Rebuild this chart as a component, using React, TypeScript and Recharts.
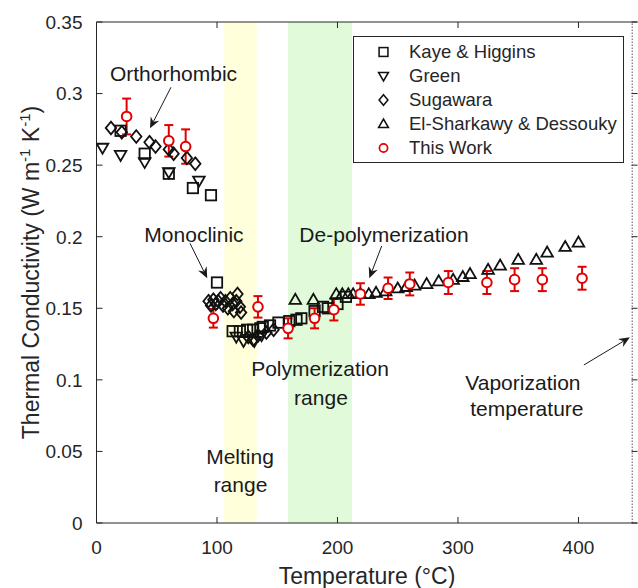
import React from 'react';
import {
  ScatterChart,
  Scatter,
  XAxis,
  YAxis,
  ReferenceArea,
  ReferenceLine,
  ReferenceDot,
  ErrorBar,
  Legend,
} from 'recharts';

const FONT = '"Liberation Sans", Arial, Helvetica, sans-serif';
const INK = '#262626';
const BLACK = '#111111';
const RED = '#E00000';

// Axis ticks
const xTicks = [0, 100, 200, 300, 400];
const yTicks = [0, 0.05, 0.1, 0.15, 0.2, 0.25, 0.3, 0.35];

// Phase-change temperatures (°C)
const meltingRange = [106, 133];
const polymerizationRange = [159, 212];
const vaporizationTemp = 444.6;

// [temperature °C, thermal conductivity W/(m K)]
const kayeHiggins = [
  [20, 0.274], [40, 0.258], [60, 0.244], [80, 0.234], [95, 0.229], [100, 0.168],
  [113, 0.134], [119, 0.134], [125, 0.135], [130, 0.135], [136, 0.136], [138, 0.137],
  [144, 0.138], [151, 0.14], [160, 0.141], [166, 0.142], [170, 0.143], [181, 0.148],
  [188, 0.151], [192, 0.15], [200, 0.153], [207, 0.158],
];

const green = [
  [5, 0.262], [20, 0.257], [40, 0.252], [60, 0.245], [85, 0.239],
  [116, 0.13], [122, 0.127], [131, 0.127], [137, 0.131],
];

const sugawara = [
  [12, 0.276], [21, 0.273], [33, 0.27], [44, 0.266], [49, 0.263], [60, 0.261],
  [64, 0.258], [75, 0.255], [82, 0.251],
  [93, 0.155], [95, 0.152], [97, 0.156], [99, 0.153], [101, 0.155], [103, 0.157],
  [105, 0.152], [107, 0.155], [109, 0.15], [111, 0.157], [113, 0.153], [114, 0.148],
  [116, 0.155], [117, 0.16], [119, 0.151], [120, 0.147],
  [126, 0.13], [130, 0.128], [134, 0.131], [141, 0.133], [147, 0.135],
];

const elSharkawy = [
  [165, 0.156], [180, 0.156], [199, 0.16], [204, 0.16], [209, 0.16], [213, 0.16],
  [219, 0.16], [226, 0.16], [232, 0.161], [240, 0.162], [250, 0.164], [257, 0.165],
  [264, 0.166], [274, 0.167], [284, 0.169], [296, 0.17], [304, 0.172], [310, 0.174],
  [325, 0.177], [335, 0.18], [350, 0.184], [365, 0.184], [374, 0.189], [389, 0.193],
  [400, 0.196],
];

// [temperature, conductivity, uncertainty]
const thisWork = [
  [25, 0.284, 0.0125], [60, 0.267, 0.011], [74, 0.263, 0.012], [97, 0.143, 0.0065],
  [134, 0.151, 0.0075], [159, 0.136, 0.007], [181, 0.143, 0.007], [197, 0.149, 0.0075],
  [219, 0.16, 0.0075], [242, 0.164, 0.0075], [260, 0.167, 0.008], [292, 0.168, 0.008],
  [324, 0.168, 0.008], [347, 0.17, 0.008], [370, 0.17, 0.008], [403, 0.171, 0.008],
];

// Text notes placed in data coordinates
const notes = [
  { text: 'Orthorhombic', x: 63.9, y: 0.3144 },
  { text: 'Monoclinic', x: 80.9, y: 0.2019 },
  { text: 'De-polymerization', x: 238.6, y: 0.2019 },
  { text: 'Polymerization', x: 185.5, y: 0.1083 },
  { text: 'range', x: 186.3, y: 0.088 },
  { text: 'Melting', x: 119.1, y: 0.0468 },
  { text: 'range', x: 119.5, y: 0.0272 },
  { text: 'Vaporization', x: 353.9, y: 0.0985 },
  { text: 'temperature', x: 357.2, y: 0.0803 },
];

const arrows = [
  { from: [61.8, 0.3044], to: [44.4, 0.2757] },
  { from: [77.6, 0.1954], to: [91.9, 0.171] },
  { from: [236.7, 0.1935], to: [226.4, 0.171] },
  { from: [404.5, 0.1104], to: [442.7, 0.1297] },
];

const toPoints = (rows: number[][]) => rows.map(([x, y, err]) => ({ x, y, err }));

// Marker glyphs
const STROKE = 1.8;
const square = (cx: number, cy: number) => (
  <rect x={cx - 5.2} y={cy - 5.2} width={10.4} height={10.4} fill="none" stroke={BLACK} strokeWidth={STROKE} />
);
const triDown = (cx: number, cy: number) => (
  <polygon
    points={`${cx - 5.8},${cy - 4.2} ${cx + 5.8},${cy - 4.2} ${cx},${cy + 5.8}`}
    fill="none" stroke={BLACK} strokeWidth={STROKE}
  />
);
const diamond = (cx: number, cy: number) => (
  <polygon
    points={`${cx},${cy - 6.3} ${cx + 5.2},${cy} ${cx},${cy + 6.3} ${cx - 5.2},${cy}`}
    fill="none" stroke={BLACK} strokeWidth={STROKE}
  />
);
const triUp = (cx: number, cy: number) => (
  <polygon
    points={`${cx - 5.8},${cy + 4.2} ${cx + 5.8},${cy + 4.2} ${cx},${cy - 5.8}`}
    fill="none" stroke={BLACK} strokeWidth={STROKE}
  />
);
const circle = (cx: number, cy: number) => (
  <circle cx={cx} cy={cy} r={4.8} fill="#fff" stroke={RED} strokeWidth={2} />
);

const seriesDefs = [
  { name: 'Kaye & Higgins', data: toPoints(kayeHiggins), mark: square },
  { name: 'Green', data: toPoints(green), mark: triDown },
  { name: 'Sugawara', data: toPoints(sugawara), mark: diamond },
  { name: 'El-Sharkawy & Dessouky', data: toPoints(elSharkawy), mark: triUp },
];

const TICK_LEN = 6;
const TICK_FONT = 19;

const BottomTick = (props: any) => {
  const { x, y, payload } = props;
  return (
    <g>
      <line x1={x} y1={y} x2={x} y2={y - TICK_LEN} stroke={INK} />
      <text x={x} y={y + 31} textAnchor="middle" fontSize={TICK_FONT} fill={INK} fontFamily={FONT}>
        {payload.value}
      </text>
    </g>
  );
};

const LeftTick = (props: any) => {
  const { x, y, payload } = props;
  return (
    <g>
      <line x1={x} y1={y} x2={x + TICK_LEN} y2={y} stroke={INK} />
      <text x={x - 14} y={y} dy="0.36em" textAnchor="end" fontSize={TICK_FONT} fill={INK} fontFamily={FONT}>
        {String(payload.value)}
      </text>
    </g>
  );
};

const TopTick = (props: any) => {
  const { x, y } = props;
  return <line x1={x} y1={y} x2={x} y2={y + TICK_LEN} stroke={INK} />;
};

const RightTick = (props: any) => {
  const { x, y } = props;
  return <line x1={x} y1={y} x2={x - TICK_LEN} y2={y} stroke={INK} />;
};

const YTitle = (props: any) => {
  const vb = props.viewBox || {};
  const cx = vb.x + 31;
  const cy = vb.y + vb.height / 2;
  return (
    <text
      transform={`translate(${cx},${cy}) rotate(-90)`}
      textAnchor="middle"
      fontSize={23}
      fill={INK}
      fontFamily={FONT}
      dy="0.36em"
    >
      Thermal Conductivity (W m
      <tspan fontSize={15} dy={-9}>-1</tspan>
      <tspan dy={9}> K</tspan>
      <tspan fontSize={15} dy={-9}>-1</tspan>
      <tspan dy={9}>)</tspan>
    </text>
  );
};

const XTitle = (props: any) => {
  const vb = props.viewBox || {};
  return (
    <text x={vb.x + vb.width / 2} y={vb.y + 61} textAnchor="middle" fontSize={23} fill={INK} fontFamily={FONT}>
      Temperature (°C)
    </text>
  );
};

const noteShape = (text: string) => (props: any) => (
  <text
    x={props.cx}
    y={props.cy}
    dy="0.36em"
    textAnchor="middle"
    fontSize={21}
    fill="#1a1a1a"
    fontFamily={FONT}
  >
    {text}
  </text>
);

const ArrowShape = (props: any) => {
  const { x1, y1, x2, y2 } = props;
  const dx = x2 - x1;
  const dy = y2 - y1;
  const len = Math.hypot(dx, dy) || 1;
  const ux = dx / len;
  const uy = dy / len;
  const px = -uy;
  const py = ux;
  const headLen = 11;
  const headHalf = 4.8;
  const notch = 7.5;
  const bx = x2 - ux * headLen;
  const by = y2 - uy * headLen;
  const nx = x2 - ux * notch;
  const ny = y2 - uy * notch;
  return (
    <g>
      <line x1={x1} y1={y1} x2={nx} y2={ny} stroke="#1a1a1a" strokeWidth={1} />
      <polygon
        points={`${x2},${y2} ${bx + px * headHalf},${by + py * headHalf} ${nx},${ny} ${bx - px * headHalf},${by - py * headHalf}`}
        fill="#1a1a1a"
      />
    </g>
  );
};

const legendRows = [
  ...seriesDefs.map((s) => ({ name: s.name, mark: s.mark })),
  { name: 'This Work', mark: circle },
];

const LegendBox = () => (
  <div
    style={{
      width: 271,
      height: 127,
      border: `1px solid ${INK}`,
      background: '#fff',
      boxSizing: 'border-box',
      paddingTop: 2.6,
      fontFamily: FONT,
      fontSize: 18.5,
      color: INK,
    }}
  >
    {legendRows.map((row) => (
      <div key={row.name} style={{ height: 24.15, display: 'flex', alignItems: 'center' }}>
        <svg width={55} height={24} style={{ flex: 'none', display: 'block' }}>
          <g transform="translate(29.5,12) scale(0.85) translate(-29.5,-12)">{row.mark(29.5, 12)}</g>
        </svg>
        <span style={{ lineHeight: '24px', whiteSpace: 'nowrap' }}>{row.name}</span>
      </div>
    ))}
  </div>
);

const thisWorkPoints = toPoints(thisWork);

export default function App() {
  return (
    <div style={{ position: 'absolute', left: 0, top: 0, width: 638, height: 588, overflow: 'hidden', background: '#fff' }}>
      <ScatterChart
        width={640}
        height={588}
        margin={{ top: 22, right: 2.5, bottom: 0, left: 0 }}
        style={{ fontFamily: FONT }}
      >
        <XAxis
          xAxisId="x"
          dataKey="x"
          type="number"
          domain={[0, 449]}
          ticks={xTicks}
          interval={0}
          allowDataOverflow
          height={65}
          tickSize={0}
          tickMargin={0}
          tickLine={false}
          axisLine={{ stroke: INK, strokeWidth: 1 }}
          tick={<BottomTick />}
          label={{ content: (p: any) => <XTitle {...p} /> }}
        />
        <XAxis
          xAxisId="xt"
          dataKey="x"
          orientation="top"
          mirror
          type="number"
          domain={[0, 449]}
          ticks={xTicks}
          interval={0}
          allowDataOverflow
          height={1}
          tickSize={0}
          tickMargin={0}
          tickLine={false}
          axisLine={{ stroke: INK, strokeWidth: 1 }}
          tick={<TopTick />}
        />
        <YAxis
          yAxisId="y"
          dataKey="y"
          type="number"
          domain={[0, 0.35]}
          ticks={yTicks}
          interval={0}
          allowDataOverflow
          width={96.5}
          tickSize={0}
          tickMargin={0}
          tickLine={false}
          axisLine={{ stroke: INK, strokeWidth: 1 }}
          tick={<LeftTick />}
          label={{ content: (p: any) => <YTitle {...p} /> }}
        />
        <YAxis
          yAxisId="yr"
          dataKey="y"
          orientation="right"
          mirror
          type="number"
          domain={[0, 0.35]}
          ticks={yTicks}
          interval={0}
          allowDataOverflow
          width={1}
          tickSize={0}
          tickMargin={0}
          tickLine={false}
          axisLine={false}
          tick={<RightTick />}
        />

        <ReferenceArea
          xAxisId="x"
          yAxisId="y"
          x1={meltingRange[0]}
          x2={meltingRange[1]}
          y1={0}
          y2={0.35}
          fill="#FFFFDC"
          fillOpacity={1}
          stroke="none"
        />
        <ReferenceArea
          xAxisId="x"
          yAxisId="y"
          x1={polymerizationRange[0]}
          x2={polymerizationRange[1]}
          y1={0}
          y2={0.35}
          fill="#E0FADA"
          fillOpacity={1}
          stroke="none"
        />
        <ReferenceLine
          xAxisId="x"
          yAxisId="y"
          x={vaporizationTemp}
          stroke="#555"
          strokeWidth={1}
          strokeDasharray="1.5 1.5"
        />

        {/* invisible carrier so the frame axes (top / right) receive a scale */}
        <Scatter
          name="frame"
          data={thisWorkPoints}
          xAxisId="xt"
          yAxisId="yr"
          legendType="none"
          isAnimationActive={false}
          shape={() => <g />}
        />

        {seriesDefs.map((s) => (
          <Scatter
            key={s.name}
            name={s.name}
            data={s.data}
            xAxisId="x"
            yAxisId="y"
            isAnimationActive={false}
            shape={(p: any) => s.mark(p.cx, p.cy)}
          />
        ))}
        <Scatter
          name="This Work"
          data={thisWorkPoints}
          xAxisId="x"
          yAxisId="y"
          isAnimationActive={false}
          shape={(p: any) => circle(p.cx, p.cy)}
        >
          <ErrorBar dataKey="err" direction="y" width={4.5} stroke={RED} strokeWidth={2} isAnimationActive={false} />
        </Scatter>

        {arrows.map((a, i) => (
          <ReferenceLine
            key={`arrow-${i}`}
            xAxisId="x"
            yAxisId="y"
            segment={[
              { x: a.from[0], y: a.from[1] },
              { x: a.to[0], y: a.to[1] },
            ]}
            shape={ArrowShape}
          />
        ))}
        {notes.map((n, i) => (
          <ReferenceDot
            key={`note-${i}`}
            xAxisId="x"
            yAxisId="y"
            x={n.x}
            y={n.y}
            r={1}
            shape={noteShape(n.text)}
          />
        ))}

        <Legend
          layout="vertical"
          align="center"
          verticalAlign="middle"
          width={271}
          height={127}
          wrapperStyle={{ left: 353, top: 36 }}
          content={() => <LegendBox />}
        />
      </ScatterChart>
    </div>
  );
}
